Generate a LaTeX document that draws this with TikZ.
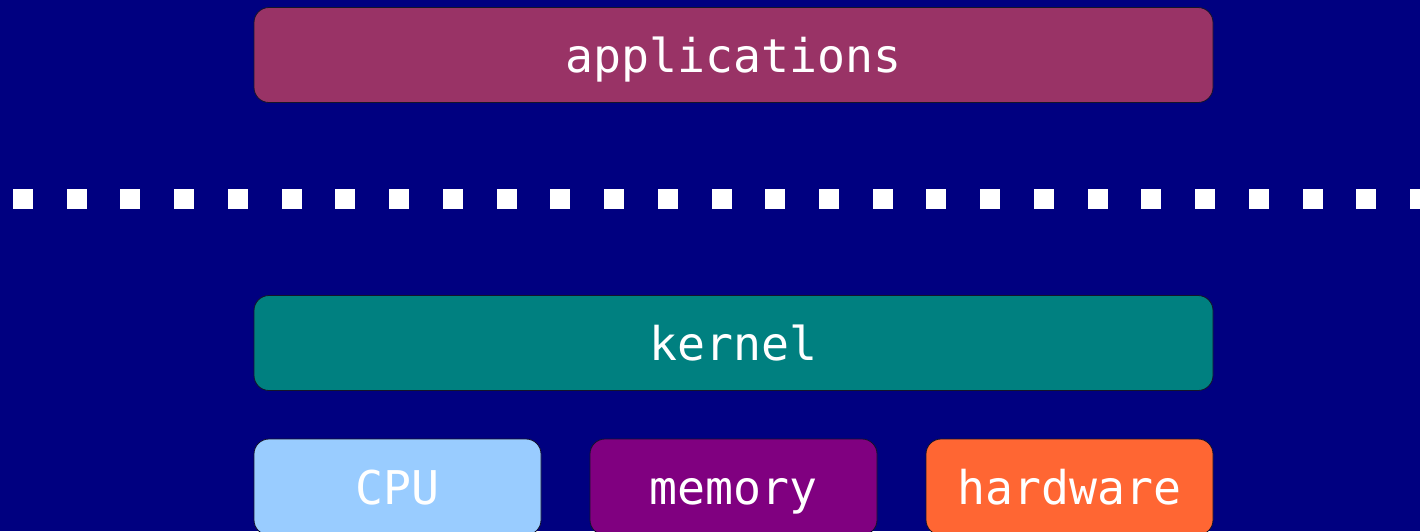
\documentclass[tikz,border=0pt]{standalone}
\usepackage{fontspec}
\setmonofont{DejaVu Sans Mono}
\definecolor{navybg}{HTML}{000080}
\definecolor{appfill}{HTML}{993366}
\definecolor{kernfill}{HTML}{008080}
\definecolor{cpufill}{HTML}{99CCFF}
\definecolor{memfill}{HTML}{800080}
\definecolor{hwfill}{HTML}{FF6633}
\definecolor{edge}{HTML}{14142A}
\tikzset{
  layer/.style={draw=edge, line width=0.8pt, rounded corners=15pt,
    inner sep=0pt, text=white, font=\ttfamily\fontsize{46.5}{50}\selectfont,
    text height=34pt, text depth=0pt},
  wide/.style={layer, minimum width=959pt, minimum height=95pt},
  part/.style={layer, minimum width=287pt, minimum height=96pt},
  sep/.style={fill=white},
}
\begin{document}
\begin{tikzpicture}[x=1pt, y=-1pt]
  \fill[navybg] (0,0) rectangle (1420,531);
  \useasboundingbox (0,0) rectangle (1420,531);

  % user space
  \node[wide, fill=appfill] (apps) at (733.5,55) {applications};

  % user/kernel boundary
  \foreach \k in {0,...,26}
    \fill[sep] ({13+53.73*\k},189) rectangle ++(20,20);

  % kernel and the resources it manages
  \node[wide, fill=kernfill] (kernel) at (733.5,343) {kernel};
  \node[part, fill=cpufill] (cpu) at (397.5,487) {CPU};
  \node[part, fill=memfill] (mem) at (733.5,487) {memory};
  \node[part, fill=hwfill] (hw) at (1069.5,487) {hardware};
\end{tikzpicture}
\end{document}
